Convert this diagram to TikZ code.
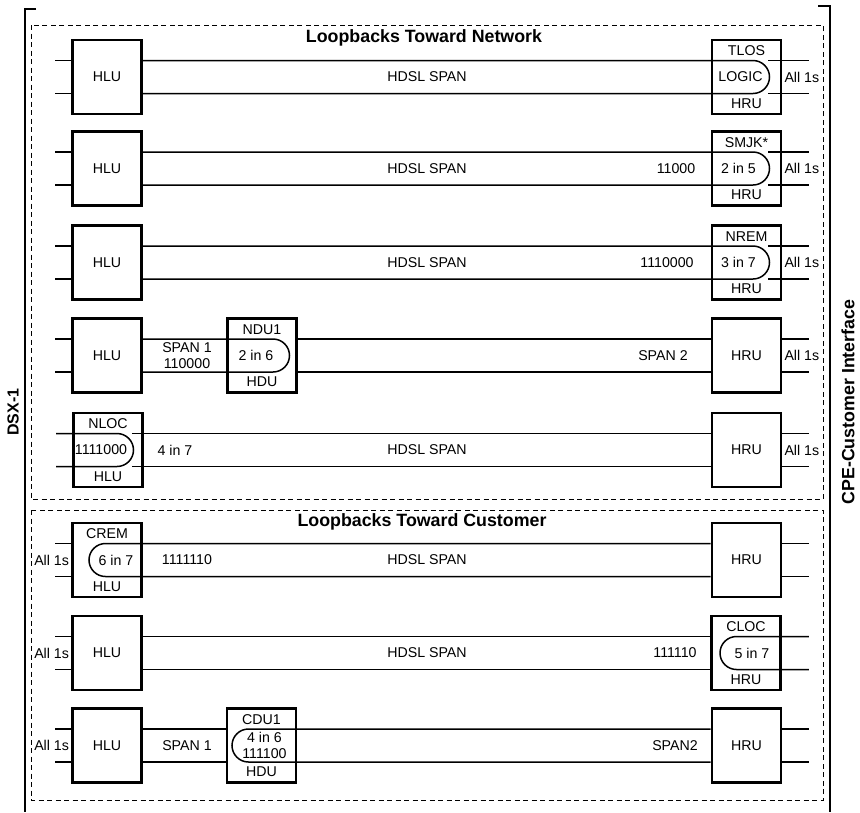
\documentclass[tikz,border=0pt]{standalone}
\usepackage{fontspec}
\setmainfont{Liberation Sans}
\begin{document}
\begin{tikzpicture}[x=1pt, y=-1pt,
    font=\fontsize{14.2}{16}\selectfont,
    unit/.style={draw, line width=2.6pt, minimum width=69pt, minimum height=74pt, inner sep=0pt},
    wire/.style={line width=1.5pt},
    rail/.style={line width=1.6pt},
    zone/.style={line width=1pt, dash pattern=on 5pt off 3.5pt},
    tag/.style={inner sep=1pt},
    heading/.style={font=\fontsize{17.8}{20}\selectfont\bfseries}]
    \useasboundingbox (0,0) rectangle (860,812);
    % frame
    \draw[rail] (36,9) -- (25,9) -- (25,812);
    \draw[rail] (818,6) -- (830,6) -- (830,812);
    \draw[zone] (31,25) rectangle (823,499);
    \draw[zone] (31,510) rectangle (823,800);
    \node[heading] (t_net) at (424,38) {Loopbacks Toward Network};
    \node[heading] (t_cus) at (422,522) {Loopbacks Toward Customer};
    \node[heading, rotate=90, font=\fontsize{16}{18}\selectfont\bfseries] (dsx) at (13,412) {DSX-1};
    \node[heading, rotate=90] (cpe) at (848,402) {CPE-Customer Interface};

    % TLOS
    \node[unit] (hlu1) at (107,77) {HLU};
    \node[unit] (tlos) at (746.5,77) {};
    \node[tag] (tlos_t) at ([yshift=-12pt]tlos.north) {TLOS};
    \node[tag] (tlos_b) at ([yshift=12pt]tlos.south) {HRU};
    \node[tag] (tlos_m) at ([xshift=-6pt]tlos.center) {LOGIC};
    \node (span1) at (427,77) {HDSL SPAN};
    \node[tag, anchor=west] (ones1) at ([xshift=1pt]tlos.east) {All 1s};
    \draw[wire] ([yshift=16.5pt]hlu1.west) -- ++(-16,0);
    \draw[wire] ([yshift=-16.5pt]hlu1.west) -- ++(-16,0);
    \draw[wire] ([yshift=16.5pt]hlu1.east) -- ([xshift=6.5pt,yshift=16.5pt]tlos.center) arc[start angle=90, end angle=-90, radius=16.5pt] -- ([yshift=-16.5pt]hlu1.east);
    \draw[wire] ([xshift=-14pt,yshift=16.5pt]tlos.east) -- ++(41,0);
    \draw[wire] ([xshift=-14pt,yshift=-16.5pt]tlos.east) -- ++(41,0);

    % SMJK
    \node[unit] (hlu2) at (107,168.5) {HLU};
    \node[unit] (smjk) at (746.5,168.5) {};
    \node[tag] (smjk_t) at ([yshift=-12pt]smjk.north) {SMJK*};
    \node[tag] (smjk_b) at ([yshift=12pt]smjk.south) {HRU};
    \node[tag] (smjk_m) at ([xshift=-8pt]smjk.center) {2 in 5};
    \node (span2) at (427,168.5) {HDSL SPAN};
    \node (code2) at (676,168.5) {11000};
    \node[tag, anchor=west] (ones2) at ([xshift=1pt]smjk.east) {All 1s};
    \draw[wire] ([yshift=16.5pt]hlu2.west) -- ++(-16,0);
    \draw[wire] ([yshift=-16.5pt]hlu2.west) -- ++(-16,0);
    \draw[wire] ([yshift=16.5pt]hlu2.east) -- ([xshift=6.5pt,yshift=16.5pt]smjk.center) arc[start angle=90, end angle=-90, radius=16.5pt] -- ([yshift=-16.5pt]hlu2.east);
    \draw[wire] ([xshift=-14pt,yshift=16.5pt]smjk.east) -- ++(41,0);
    \draw[wire] ([xshift=-14pt,yshift=-16.5pt]smjk.east) -- ++(41,0);

    % NREM
    \node[unit] (hlu3) at (107,262.5) {HLU};
    \node[unit] (nrem) at (746.5,262.5) {};
    \node[tag] (nrem_t) at ([yshift=-12pt]nrem.north) {NREM};
    \node[tag] (nrem_b) at ([yshift=12pt]nrem.south) {HRU};
    \node[tag] (nrem_m) at ([xshift=-8pt]nrem.center) {3 in 7};
    \node (span3) at (427,262.5) {HDSL SPAN};
    \node (code3) at (667,262.5) {1110000};
    \node[tag, anchor=west] (ones3) at ([xshift=1pt]nrem.east) {All 1s};
    \draw[wire] ([yshift=16.5pt]hlu3.west) -- ++(-16,0);
    \draw[wire] ([yshift=-16.5pt]hlu3.west) -- ++(-16,0);
    \draw[wire] ([yshift=16.5pt]hlu3.east) -- ([xshift=6.5pt,yshift=16.5pt]nrem.center) arc[start angle=90, end angle=-90, radius=16.5pt] -- ([yshift=-16.5pt]hlu3.east);
    \draw[wire] ([xshift=-14pt,yshift=16.5pt]nrem.east) -- ++(41,0);
    \draw[wire] ([xshift=-14pt,yshift=-16.5pt]nrem.east) -- ++(41,0);

    % NDU1
    \node[unit] (hlu4) at (107,355.5) {HLU};
    \node[unit] (ndu1) at (262,355.5) {};
    \node[tag] (ndu1_t) at ([yshift=-12pt]ndu1.north) {NDU1};
    \node[tag] (ndu1_b) at ([yshift=12pt]ndu1.south) {HDU};
    \node[tag] (ndu1_m) at ([xshift=-6pt]ndu1.center) {2 in 6};
    \node[unit] (hru4) at (746.5,355.5) {HRU};
    \node[align=center, inner sep=0pt] (span4a) at (187,355.5) {SPAN 1\\110000};
    \node (span4b) at (663,355.5) {SPAN 2};
    \node[tag, anchor=west] (ones4) at ([xshift=1pt]hru4.east) {All 1s};
    \draw[wire] ([yshift=16.5pt]hlu4.west) -- ++(-16,0);
    \draw[wire] ([yshift=-16.5pt]hlu4.west) -- ++(-16,0);
    \draw[wire] ([yshift=16.5pt]hlu4.east) -- ([xshift=11pt,yshift=16.5pt]ndu1.center) arc[start angle=90, end angle=-90, radius=16.5pt] -- ([yshift=-16.5pt]hlu4.east);
    \draw[wire] ([yshift=16.5pt]ndu1.east) -- ([yshift=16.5pt]hru4.west);
    \draw[wire] ([yshift=-16.5pt]ndu1.east) -- ([yshift=-16.5pt]hru4.west);
    \draw[wire] ([yshift=16.5pt]hru4.east) -- ++(27,0);
    \draw[wire] ([yshift=-16.5pt]hru4.east) -- ++(27,0);

    % NLOC
    \node[unit] (nloc) at (108,450) {};
    \node[tag] (nloc_t) at ([yshift=-12pt]nloc.north) {NLOC};
    \node[tag] (nloc_b) at ([yshift=12pt]nloc.south) {HLU};
    \node[inner sep=0pt] (nloc_m) at ([xshift=-7pt]nloc.center) {1111000};
    \node[unit] (hru5) at (746.5,450) {HRU};
    \node (code5) at (175,450) {4 in 7};
    \node (span5) at (427,450) {HDSL SPAN};
    \node[tag, anchor=west] (ones5) at ([xshift=1pt]hru5.east) {All 1s};
    \draw[wire] ([xshift=-16pt,yshift=16.5pt]nloc.west) -- ([xshift=9pt,yshift=16.5pt]nloc.center) arc[start angle=90, end angle=-90, radius=16.5pt] -- ([xshift=-16pt,yshift=-16.5pt]nloc.west);
    \draw[wire] ([xshift=-12pt,yshift=16.5pt]nloc.east) -- ([yshift=16.5pt]hru5.west);
    \draw[wire] ([xshift=-12pt,yshift=-16.5pt]nloc.east) -- ([yshift=-16.5pt]hru5.west);
    \draw[wire] ([yshift=16.5pt]hru5.east) -- ++(27,0);
    \draw[wire] ([yshift=-16.5pt]hru5.east) -- ++(27,0);

    % CREM
    \node[unit] (crem) at (107,560) {};
    \node[tag] (crem_t) at ([yshift=-12pt]crem.north) {CREM};
    \node[tag] (crem_b) at ([yshift=12pt]crem.south) {HLU};
    \node[tag] (crem_m) at ([xshift=9pt]crem.center) {6 in 7};
    \node[unit] (hru6) at (746.5,560) {HRU};
    \node (code6) at (187,560) {1111110};
    \node (span6) at (427,560) {HDSL SPAN};
    \node[tag, anchor=east] (ones6) at ([xshift=-1pt]crem.west) {All 1s};
    \draw[wire] ([yshift=16.5pt]crem.west) -- ++(-16,0);
    \draw[wire] ([yshift=-16.5pt]crem.west) -- ++(-16,0);
    \draw[wire] ([yshift=16.5pt]hru6.west) -- ([xshift=-1.5pt,yshift=16.5pt]crem.center) arc[start angle=90, end angle=270, radius=16.5pt] -- ([yshift=-16.5pt]hru6.west);
    \draw[wire] ([yshift=16.5pt]hru6.east) -- ++(27,0);
    \draw[wire] ([yshift=-16.5pt]hru6.east) -- ++(27,0);

    % CLOC
    \node[unit] (hlu7) at (107,653) {HLU};
    \node[unit] (cloc) at (746,653) {};
    \node[tag] (cloc_t) at ([yshift=-12pt]cloc.north) {CLOC};
    \node[tag] (cloc_b) at ([yshift=12pt]cloc.south) {HRU};
    \node[tag] (cloc_m) at ([xshift=6pt]cloc.center) {5 in 7};
    \node (span7) at (427,653) {HDSL SPAN};
    \node (code7) at (675,653) {111110};
    \node[tag, anchor=east] (ones7) at ([xshift=-1pt]hlu7.west) {All 1s};
    \draw[wire] ([yshift=16.5pt]hlu7.west) -- ++(-16,0);
    \draw[wire] ([yshift=-16.5pt]hlu7.west) -- ++(-16,0);
    \draw[wire] ([yshift=16.5pt]hlu7.east) -- ([yshift=16.5pt]cloc.west);
    \draw[wire] ([yshift=-16.5pt]hlu7.east) -- ([yshift=-16.5pt]cloc.west);
    \draw[wire] ([xshift=27pt,yshift=16.5pt]cloc.east) -- ([xshift=-9.5pt,yshift=16.5pt]cloc.center) arc[start angle=90, end angle=270, radius=16.5pt] -- ([xshift=27pt,yshift=-16.5pt]cloc.east);

    % CDU1
    \node[unit] (hlu8) at (107,745.5) {HLU};
    \node[unit] (cdu1) at (261.5,745.5) {};
    \node[tag] (cdu1_t) at ([yshift=-12pt]cdu1.north) {CDU1};
    \node[tag] (cdu1_b) at ([yshift=12pt]cdu1.south) {HDU};
    \node[align=center, inner sep=0pt, font=\fontsize{14.2}{16}\selectfont] (cdu1_m) at ([xshift=3pt]cdu1.center) {4 in 6\\111100};
    \node[unit] (hru8) at (746.5,745.5) {HRU};
    \node (span8a) at (187,745.5) {SPAN 1};
    \node (span8b) at (675,745.5) {SPAN2};
    \node[tag, anchor=east] (ones8) at ([xshift=-1pt]hlu8.west) {All 1s};
    \draw[wire] ([yshift=16.5pt]hlu8.west) -- ++(-16,0);
    \draw[wire] ([yshift=-16.5pt]hlu8.west) -- ++(-16,0);
    \draw[wire] ([yshift=16.5pt]hlu8.east) -- ([yshift=16.5pt]cdu1.west);
    \draw[wire] ([yshift=-16.5pt]hlu8.east) -- ([yshift=-16.5pt]cdu1.west);
    \draw[wire] ([yshift=16.5pt]hru8.west) -- ([xshift=-13pt,yshift=16.5pt]cdu1.center) arc[start angle=90, end angle=270, radius=16.5pt] -- ([yshift=-16.5pt]hru8.west);
    \draw[wire] ([yshift=16.5pt]hru8.east) -- ++(27,0);
    \draw[wire] ([yshift=-16.5pt]hru8.east) -- ++(27,0);
\end{tikzpicture}
\end{document}
